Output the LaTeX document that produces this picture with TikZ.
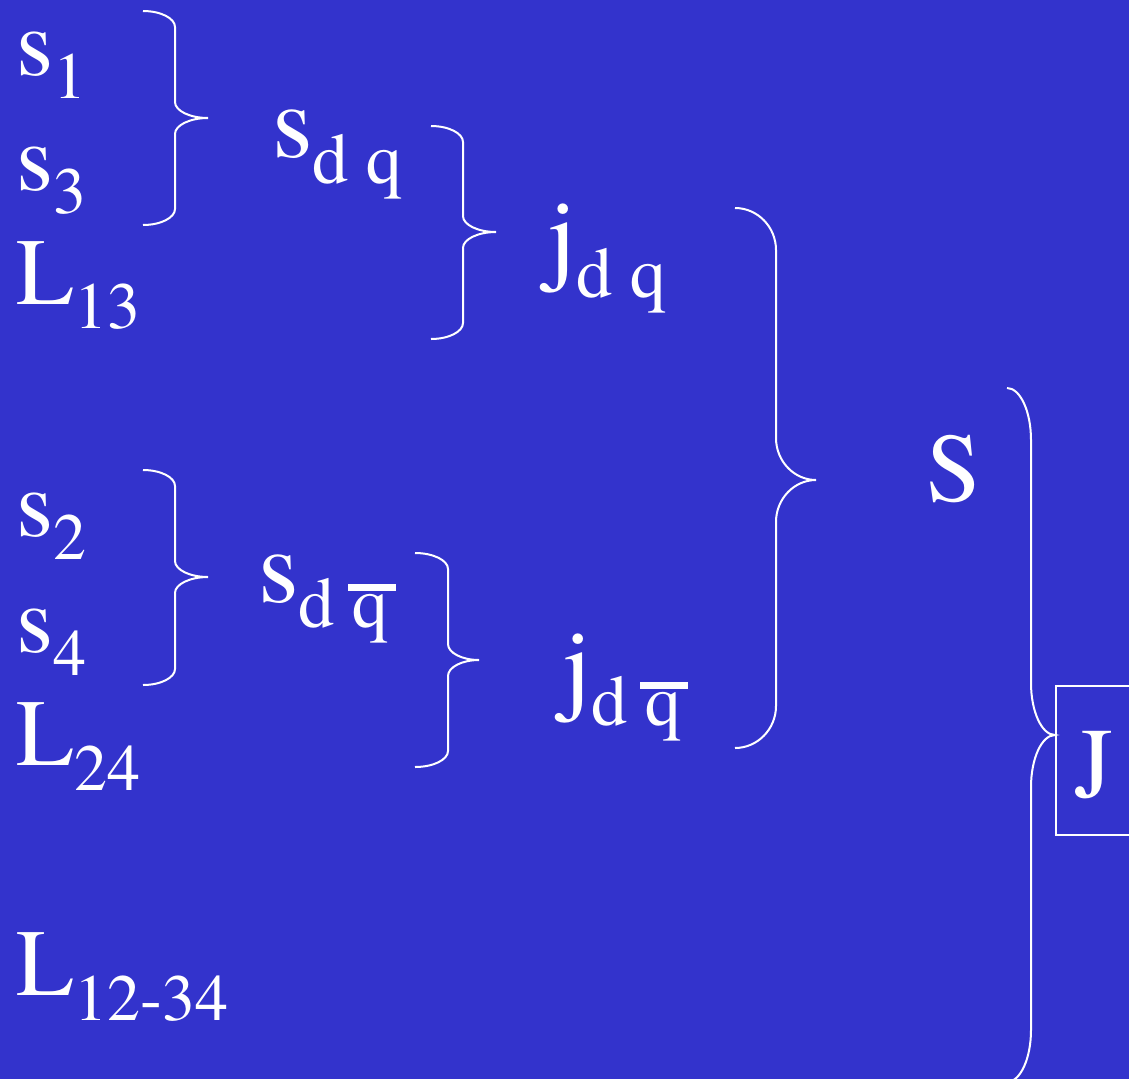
\documentclass[tikz,border=0pt]{standalone}
\usepackage{fontspec}
\newfontfamily\tnr{texgyretermes-regular.otf}
\definecolor{bg}{RGB}{51,51,204}
\newcommand{\bigsz}{\tnr\fontsize{95}{95}\selectfont}
\newcommand{\jsz}{\tnr\fontsize{104}{104}\selectfont}
\newcommand{\smsz}{\tnr\fontsize{66}{66}\selectfont}
\newcommand{\medsz}{\tnr\fontsize{72}{72}\selectfont}
\newcommand{\lsub}[2]{{\smsz\raisebox{-#1pt}{#2}}}
\newcommand{\msub}[2]{{\medsz\raisebox{-#1pt}{#2}}}
\newcommand{\qb}{\makebox[0pt][l]{\hspace{-5pt}\rule[36.5pt]{48pt}{7pt}}q}
% brace: name, x_end, x_vert, x_tip, y_top, y_tip, y_bot, r
\newcommand{\mybrace}[8]{%
  \coordinate (#1-top) at (#2,#5);
  \coordinate (#1-tip) at (#4,#6);
  \coordinate (#1-bot) at (#2,#7);
  \draw[bracestyle] (#1-top)
    .. controls ({#2+0.55*(#3-#2)},#5) and (#3,{#5+0.45*#8}) .. (#3,#5+#8)
    -- (#3,#6-#8)
    .. controls (#3,{#6-0.45*#8}) and ({#4-0.55*(#4-#3)},#6) .. (#1-tip)
    .. controls ({#4-0.55*(#4-#3)},#6) and (#3,{#6+0.45*#8}) .. (#3,#6+#8)
    -- (#3,#7-#8)
    .. controls (#3,{#7-0.45*#8}) and ({#2+0.55*(#3-#2)},#7) .. (#1-bot);}
\tikzset{
  lbl/.style={inner sep=0pt, anchor=base west, text=white, font=\bigsz},
  bracestyle/.style={draw=white, line width=2pt},
}
\begin{document}
\begin{tikzpicture}[x=1pt,y=-1pt]
\useasboundingbox (0,0) rectangle (1129,1079);
\clip (0,0) rectangle (1129,1079);
\fill[bg] (0,0) rectangle (1129,1079);

% left column
\node[lbl] (s1) at (16,75) {s\lsub{23}{1}};
\node[lbl] (s3) at (16,190) {s\lsub{23}{3}};
\node[lbl] (L13) at (16,304) {L\lsub{24}{13}};
\node[lbl] (s2) at (16,536) {s\lsub{23}{2}};
\node[lbl] (s4) at (16,652) {s\lsub{23}{4}};
\node[lbl] (L24) at (16,765) {L\lsub{25}{24}};
\node[lbl] (L1234) at (16,995) {L\lsub{25}{12-34}};

% diquark spins
\node[lbl, font=\jsz] (sdq) at (272,157) {s\msub{26}{d q}};
\node[lbl, font=\jsz] (sdqb) at (258,602) {s\msub{25}{d \qb}};
% diquark j
\node[lbl, font=\jsz] (jdq) at (547,270) {j\msub{27}{d q}};
\node[lbl, font=\jsz] (jdqb) at (562,700) {j\msub{25}{d \qb}};
% total S
\node[lbl, font=\tnr\fontsize{98}{98}\selectfont] (S) at (926,501) {S};
% J box
\node[draw=white, line width=2pt, minimum width=84pt, minimum height=149pt,
      anchor=north west, inner sep=0pt] (Jbox) at (1055,685) {};
\node[lbl, font=\tnr\fontsize{100}{100}\selectfont] (J) at (1074,797) {J};

% braces
\mybrace{b1}{143}{175}{208}{11}{118}{225}{16}
\mybrace{b2}{431}{463}{496}{126}{232}{339}{16}
\mybrace{b3}{143}{175}{208}{470}{577}{685}{16}
\mybrace{b4}{415}{448}{479}{553}{660}{767}{16}
\mybrace{b5}{735}{776}{816}{208}{480}{748}{42}
\mybrace{b6}{1007}{1031}{1055}{388}{735}{1082}{52}
\end{tikzpicture}
\end{document}
